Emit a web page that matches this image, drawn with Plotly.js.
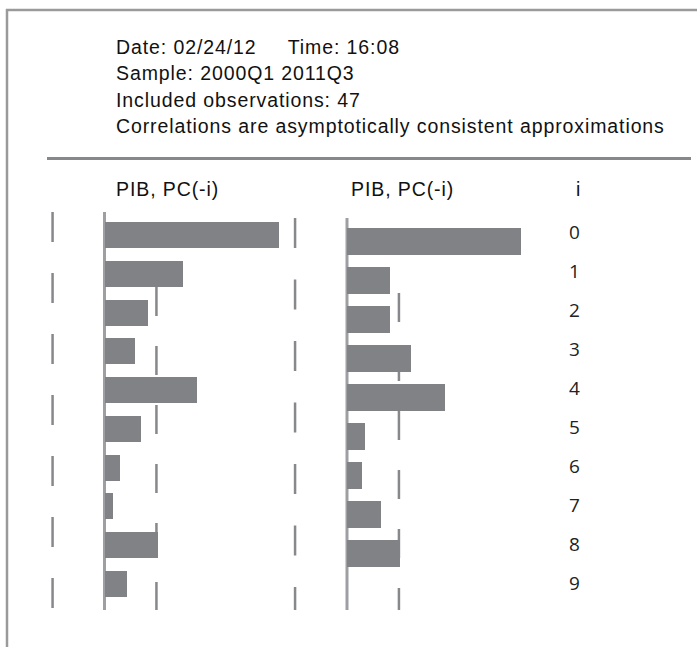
<!DOCTYPE html>
<html><head><meta charset="utf-8">
<script src="https://cdn.plot.ly/plotly-3.0.1.min.js"></script>
<style>
html,body{margin:0;padding:0;background:#fff;}
#chart{width:697px;height:647px;}
.annotation-text{letter-spacing:0.9px;}
</style></head><body><div id="chart"></div>
<script>
// ---- data ----
const lags = [0, 1, 2, 3, 4, 5, 6, 7, 8, 9];
const corrLag = [0.98, 0.44, 0.245, 0.17, 0.52, 0.205, 0.087, 0.048, 0.30, 0.126];
const corrLead = [0.978, 0.24, 0.24, 0.36, 0.55, 0.10, 0.084, 0.19, 0.30, 0.0];
const nObs = 47;
const headerLines = [
  "Date: 02/24/12\u00A0\u00A0\u00A0\u00A0 Time: 16:08",
  "Sample: 2000Q1 2011Q3",
  "Included observations: 47",
  "Correlations are asymptotically consistent approximations"
];
const columnTitles = ["PIB, PC(-i)", "PIB, PC(-i)", "i"];

// ---- helpers (pixel -> paper) ----
const W = 697, H = 647;
const px = x => x / W;
const py = y => 1 - y / H;
const bound = 2 / Math.sqrt(nObs);

const barColor = '#818286';
const dashColor = '#87888c';
const zeroColor = '#9e9fa3';

const traces = [
  {type: 'bar', orientation: 'h', x: corrLag, y: lags, xaxis: 'x', yaxis: 'y',
   width: 0.67, marker: {color: barColor, line: {width: 0}}, hoverinfo: 'skip'},
  {type: 'bar', orientation: 'h', x: corrLead, y: lags, xaxis: 'x2', yaxis: 'y2',
   width: 0.667, marker: {color: barColor, line: {width: 0}}, hoverinfo: 'skip'}
];

function vline(xref, xv, yTop, yBot, dash, color, w) {
  return {type: 'line', layer: 'below', xref: xref, yref: 'paper',
          x0: xv, x1: xv, y0: py(yTop), y1: py(yBot),
          line: {color: color, width: w, dash: dash}};
}

const shapes = [
  // frame
  {type: 'line', xref: 'paper', yref: 'paper', x0: px(6), x1: px(697), y0: py(10), y1: py(10),
   line: {color: '#9a9a9a', width: 2.5}},
  {type: 'line', xref: 'paper', yref: 'paper', x0: px(7), x1: px(7), y0: py(9), y1: py(647),
   line: {color: '#9a9a9a', width: 2.5}},
  // rule under header
  {type: 'line', xref: 'paper', yref: 'paper', x0: px(47), x1: px(691), y0: py(158.5), y1: py(158.5),
   line: {color: '#87888c', width: 3}},
  // left panel
  vline('x', -bound, 212, 610, '30px,31px', dashColor, 2.5),
  vline('x', 0, 212, 610, 'solid', zeroColor, 3),
  vline('x', bound, 287, 610, '29px,30px', dashColor, 2.5),
  // right panel
  vline('x2', -bound, 218, 610, '30px,31.5px', dashColor, 2.5),
  vline('x2', 0, 218, 610, 'solid', zeroColor, 3),
  vline('x2', bound, 293, 610, '29px,30px', dashColor, 2.5)
];

const txtFont = {family: '"Liberation Sans", Arial, sans-serif', size: 19.5, color: '#111'};
const annotations = [];
const headerY = [47, 73.5, 100, 126];
headerLines.forEach((t, i) => annotations.push({
  text: t, xref: 'paper', yref: 'paper', x: px(114), y: py(headerY[i]),
  xanchor: 'left', yanchor: 'middle', showarrow: false, font: txtFont
}));
const colX = [114, 349, 578];
columnTitles.forEach((t, i) => annotations.push({
  text: t, xref: 'paper', yref: 'paper', x: px(colX[i]), y: py(188.5),
  xanchor: i === 2 ? 'center' : 'left', yanchor: 'middle', showarrow: false, font: txtFont
}));
lags.forEach(l => annotations.push({
  text: String(l), xref: 'paper', yref: 'y2', x: px(575), y: l, yshift: 9.5,
  xanchor: 'center', yanchor: 'middle', showarrow: false,
  font: {family: '"Open Sans", sans-serif', size: 19, color: '#222'}
}));

const hidden = {showgrid: false, zeroline: false, showticklabels: false, showline: false,
                ticks: '', fixedrange: true};
const layout = {
  width: W, height: H, margin: {l: 0, r: 0, t: 0, b: 0},
  paper_bgcolor: '#fff', plot_bgcolor: 'rgba(0,0,0,0)',
  showlegend: false, hovermode: false, bargap: 0,
  xaxis: Object.assign({}, hidden, {domain: [px(30), px(290)],
    range: [(30 - 104.5) / 178, (290 - 104.5) / 178], anchor: 'y'}),
  yaxis: Object.assign({}, hidden, {domain: [py(620), py(200)],
    range: [(620 - 235) / 38.78, (200 - 235) / 38.78], anchor: 'x'}),
  xaxis2: Object.assign({}, hidden, {domain: [px(280), px(550)],
    range: [(280 - 347) / 178, (550 - 347) / 178], anchor: 'y2'}),
  yaxis2: Object.assign({}, hidden, {domain: [py(620), py(200)],
    range: [(620 - 241.5) / 39, (200 - 241.5) / 39], anchor: 'x2'}),
  shapes: shapes,
  annotations: annotations
};

Plotly.newPlot('chart', traces, layout, {staticPlot: true, displayModeBar: false});
</script></body></html>
